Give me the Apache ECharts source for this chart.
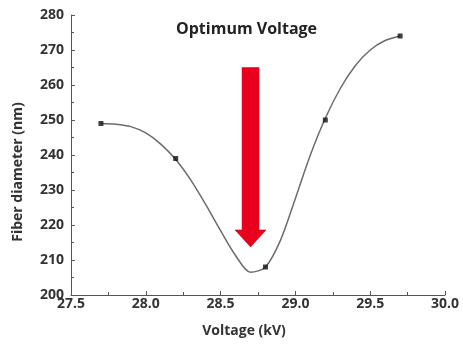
<!DOCTYPE html>
<html><head><meta charset="utf-8">
<script src="https://cdn.jsdelivr.net/npm/echarts@6/dist/echarts.min.js"></script>
<style>html,body{margin:0;padding:0;background:#fff}#c{width:463px;height:344px}</style>
</head><body><div id="c"></div>
<script>
// measured data points
var voltage = [27.7, 28.2, 28.8, 29.2, 29.7];
var diameter = [249, 239, 208, 250, 274];
// fitted curve
var fitX = [27.7, 27.8, 27.9, 28.0, 28.1, 28.2, 28.3, 28.4, 28.5, 28.6, 28.7, 28.8, 28.9, 29.0, 29.1, 29.2, 29.3, 29.4, 29.5, 29.6, 29.7];
var fitY = [249.0, 248.8, 248.1, 246.3, 243.1, 238.7, 232.9, 225.9, 218.4, 211.3, 206.5, 208.0, 215.6, 227.6, 240.0, 250.5, 259.0, 265.5, 270.0, 272.7, 274.0];
// annotation arrow (data coords): x, top, head base, tip
var arrowX = 28.70, arrowTop = 265, arrowHeadBase = 218.6, arrowTip = 213.7;
var annotationText = 'Optimum Voltage';

var chart = echarts.init(document.getElementById('c'));
var font = '"Open Sans", Lato, sans-serif';
var axisCol = '#555';
chart.setOption({
  animation: false,
  grid: {left: 71, right: 18, top: 15, bottom: 49},
  xAxis: {
    type: 'value', min: 27.5, max: 30.0, interval: 0.5,
    name: 'Voltage (kV)', nameLocation: 'middle', nameGap: 29,
    nameTextStyle: {fontFamily: font, fontWeight: 'bold', fontSize: 14, color: '#333', padding: [0, 28, 0, 0]},
    axisLine: {lineStyle: {color: axisCol, width: 1}},
    axisTick: {inside: true, length: 4, lineStyle: {color: axisCol}},
    minorTick: {show: true, splitNumber: 2, length: 3, lineStyle: {color: axisCol}},
    axisLabel: {fontFamily: font, fontWeight: 'bold', fontSize: 14, color: '#333', margin: 2,
      formatter: function(v){return v.toFixed(1);}},
    splitLine: {show: false}
  },
  yAxis: {
    type: 'value', min: 200, max: 280, interval: 10,
    name: 'Fiber diameter (nm)', nameLocation: 'middle', nameGap: 46,
    nameTextStyle: {fontFamily: font, fontWeight: 'bold', fontSize: 14, color: '#333', padding: [0, 34, 0, 0]},
    axisLine: {show: true, lineStyle: {color: axisCol, width: 1}},
    axisTick: {inside: true, length: 4, lineStyle: {color: axisCol}},
    minorTick: {show: true, splitNumber: 2, length: 3, lineStyle: {color: axisCol}},
    axisLabel: {fontFamily: font, fontWeight: 'bold', fontSize: 14, color: '#333', margin: 7},
    splitLine: {show: false}
  },
  series: [
    {
      type: 'line', smooth: 0.3, symbol: 'none', z: 2,
      lineStyle: {color: '#6b6b6b', width: 1.5},
      data: fitX.map(function(x, i){return [x, fitY[i]];})
    },
    {
      type: 'scatter', symbol: 'rect', symbolSize: 5, z: 3,
      itemStyle: {color: '#111'},
      data: voltage.map(function(x, i){return [x, diameter[i]];})
    },
    {
      type: 'custom', z: 4, silent: true,
      data: [[arrowX, arrowTop, arrowHeadBase, arrowTip]],
      renderItem: function(params, api){
        var top = api.coord([api.value(0), api.value(1)]);
        var base = api.coord([api.value(0), api.value(2)]);
        var tip = api.coord([api.value(0), api.value(3)]);
        var cx = top[0], sw = 8.5, hw = 15.5;
        return {
          type: 'polygon',
          shape: {points: [[cx - sw, top[1]], [cx + sw, top[1]], [cx + sw, base[1]], [cx + hw, base[1]],
                           [cx, tip[1]], [cx - hw, base[1]], [cx - sw, base[1]]]},
          style: {fill: '#e8001c', stroke: '#c40018', lineWidth: 0.5}
        };
      }
    }
  ],
  graphic: [{
    type: 'text', left: 176, top: 21,
    style: {text: annotationText, fontFamily: font, fontWeight: 'bold', fontSize: 16, fill: '#222'}
  }]
});
</script></body></html>
